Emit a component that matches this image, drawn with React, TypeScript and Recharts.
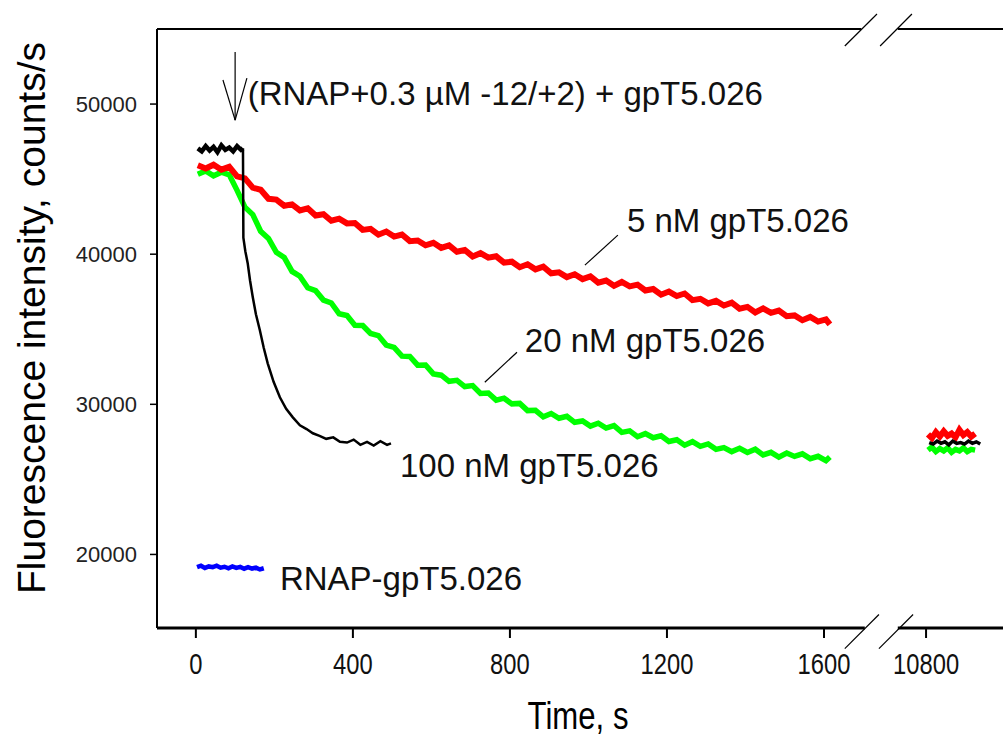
import React from "react";
import { LineChart, Line, XAxis, YAxis, ReferenceLine, ReferenceDot, Label } from "recharts";

// sweep time grid (s) shared by the 5 nM and 20 nM traces
const sweepTime = [
  5, 25, 45, 65, 85, 105, 125, 145, 165, 185, 205, 225, 245, 265, 285, 305, 325, 345, 365, 385,
  405, 425, 445, 465, 485, 505, 525, 545, 565, 585, 605, 625, 645, 665, 685, 705, 725, 745, 765, 785,
  805, 825, 845, 865, 885, 905, 925, 945, 965, 985, 1005, 1025, 1045, 1065, 1085, 1105, 1125, 1145, 1165, 1185,
  1205, 1225, 1245, 1265, 1285, 1305, 1325, 1345, 1365, 1385, 1405, 1425, 1445, 1465, 1485, 1505, 1525, 1545, 1565, 1585,
  1605, 1615,
];
const red5nM = [
  45920, 45710, 45960, 45630, 45820, 45180, 45050, 44430, 44290, 43690, 43640, 43230, 43320, 42920, 43060, 42580, 42660, 42230, 42370, 42050,
  42080, 41620, 41690, 41300, 41510, 41170, 41310, 40870, 40910, 40590, 40760, 40420, 40590, 40160, 40280, 39850, 40070, 39770, 39860, 39440,
  39500, 39130, 39330, 38990, 39170, 38730, 38790, 38470, 38660, 38340, 38520, 38100, 38240, 37890, 38150, 37860, 37970, 37580, 37680, 37300,
  37510, 37210, 37380, 36940, 37030, 36720, 36890, 36580, 36770, 36370, 36490, 36120, 36390, 36090, 36240, 35870, 35920, 35600, 35820, 35510,
  35660, 35330,
];
const green20nM = [
  45320, 45550, 45220, 45460, 45290, 44250, 43130, 42640, 41530, 41050, 40120, 39790, 38850, 38530, 37760, 37570, 36940, 36750, 36030, 35910,
  35270, 35250, 34720, 34580, 33950, 33790, 33210, 33190, 32610, 32620, 32030, 31940, 31530, 31600, 31180, 31250, 30720, 30750, 30280, 30410,
  30030, 30060, 29580, 29600, 29170, 29390, 29070, 29200, 28800, 28890, 28550, 28740, 28420, 28580, 28130, 28230, 27840, 28050, 27770, 27900,
  27520, 27640, 27280, 27510, 27200, 27360, 27000, 27120, 26850, 27070, 26790, 27010, 26630, 26800, 26480, 26760, 26530, 26700, 26380, 26540,
  26250, 26490,
];

const blackTime = [
  5, 15, 25, 35, 45, 55, 65, 75, 85, 95, 105, 115, 120, 121, 126, 132, 138, 145, 153, 163,
  173, 183, 198, 214, 230, 247, 265, 282, 298, 315, 332, 350, 367, 385, 402, 419, 436, 453, 470, 487, 497,
];
const black100nM = [
  47050, 46850, 47200, 46900, 47150, 46800, 47250, 46950, 47100, 46850, 47200, 46950, 47050, 41100, 40200, 39400, 38250, 37130, 36000, 34930,
  33750, 32730, 31500, 30470, 29700, 29130, 28600, 28350, 28070, 27900, 27700, 27800, 27500, 27450, 27650, 27300, 27500, 27250, 27550, 27300, 27400,
];
// index of the last pre-mixing point (t = 120 s)
const MIX_INDEX = 12;

const blueTime = [3, 13, 23, 33, 43, 53, 63, 73, 83, 93, 103, 113, 123, 133, 143, 153, 163, 173];
const blueComplex = [19150, 19250, 19100, 19200, 19150, 19250, 19120, 19180, 19080, 19200, 19100, 19170, 19050, 19150, 19060, 19120, 19000, 19080];

// end points at ~3 h
const lateTime = [10805, 10815, 10825, 10835, 10845, 10855, 10865, 10875, 10885, 10895, 10905, 10915, 10925];
const red5nMLate = [28000, 27750, 28150, 27850, 28200, 27900, 28050, 27800, 28300, 27950, 28150, 27850, 28050];
const green20nMLate = [26950, 27150, 26850, 27050, 26900, 27100, 26800, 27000, 26900, 27100, 26850, 27000, 26950];
const blackLateTime = [10808, 10818, 10828, 10838, 10848, 10858, 10868, 10878, 10888, 10898, 10908, 10918, 10928, 10938];
const black100nMLate = [27450, 27350, 27550, 27400, 27500, 27300, 27550, 27400, 27450, 27350, 27550, 27400, 27500, 27350];

const xTicks = [0, 400, 800, 1200, 1600, 10800];
const yTicks = [20000, 30000, 40000, 50000];

// the time axis is broken between ~1700 s and ~10730 s
const BREAK_SHIFT = 8940;
const toAxis = (t: number) => (t > 5000 ? t - BREAK_SHIFT : t);
const fromAxis = (v: number) => (v > 1750 ? v + BREAK_SHIFT : v);
const series = (time: number[], values: number[]) => time.map((t, i) => ({ x: toAxis(t), y: values[i] }));

const X_DOMAIN: [number, number] = [-99, 2056];
const Y_DOMAIN: [number, number] = [15100, 55000];

const FONT = "'Liberation Sans', Arial, sans-serif";

const notes = [
  { t: 132, v: 49930, text: "(RNAP+0.3 \u00b5M -12/+2) + gpT5.026" },
  { t: 1098, v: 41470, text: "5 nM gpT5.026" },
  { t: 838, v: 33470, text: "20 nM gpT5.026" },
  { t: 520, v: 25130, text: "100 nM gpT5.026" },
  { t: 214, v: 17600, text: "RNAP-gpT5.026" },
];

// arrow + leader lines, [t, intensity] pairs
const pointers = [
  [[100, 53470], [100, 48930]],
  [[69, 51600], [100, 48930]],
  [[130, 51730], [100, 48930]],
  [[991, 39270], [1075, 41270]],
  [[736, 31470], [818, 33470]],
];

// frame pieces in axis units (gap at the break)
const frame = [
  { seg: [[-99, 15100], [1704, 15100]], w: 3 },
  { seg: [[1788, 15100], [2056, 15100]], w: 3 },
  { seg: [[-99, 55000], [1695, 55000]], w: 2 },
  { seg: [[1788, 55000], [2056, 55000]], w: 2 },
  { seg: [[1653, 53870], [1735, 56000]], w: 1.2 },
  { seg: [[1743, 53870], [1824, 56000]], w: 1.2 },
  { seg: [[1653, 13730], [1740, 16000]], w: 1.2 },
  { seg: [[1740, 13730], [1827, 16000]], w: 1.2 },
];

const TimeTick = (p: any) => (
  <g transform={`translate(${p.x},${p.y})`}>
    <text transform="scale(0.82,1)" x={0} y={0} dy="0.71em" textAnchor="middle" fontSize={29} fontFamily={FONT} fill="#111">
      {fromAxis(p.payload.value)}
    </text>
  </g>
);

const noteShape = (text: string) => (p: any) => (
  <text x={p.cx} y={p.cy} fontSize={33} fontFamily={FONT} fill="#111">
    {text}
  </text>
);

export default function App() {
  return (
    <div style={{ position: "absolute", left: 0, top: 0, width: 1003, height: 738, background: "#fff" }}>
      <LineChart width={1003} height={738} margin={{ top: 29, right: 0, bottom: 0, left: 0 }}>
        <XAxis
          dataKey="x"
          type="number"
          domain={X_DOMAIN}
          allowDataOverflow
          ticks={xTicks.map(toAxis)}
          height={110}
          axisLine={false}
          tickLine={{ stroke: "#000", strokeWidth: 2 }}
          tickSize={10}
          tickMargin={15}
          tick={<TimeTick />}
          label={
            <Label
              content={() => (
                <text transform="translate(578,729) scale(0.82,1)" textAnchor="middle" fontSize={38} fontFamily={FONT} fill="#000">
                  Time, s
                </text>
              )}
            />
          }
        />
        <YAxis
          type="number"
          domain={Y_DOMAIN}
          allowDataOverflow
          ticks={yTicks}
          width={157}
          axisLine={{ stroke: "#000", strokeWidth: 2 }}
          tickLine={{ stroke: "#000", strokeWidth: 1.5 }}
          tickSize={7}
          tickMargin={13}
          tick={{ fontSize: 22, fontFamily: FONT, fill: "#222" }}
          label={
            <Label
              content={() => (
                <text transform="translate(45,318) rotate(-90)" textAnchor="middle" fontSize={39} fontFamily={FONT} fill="#000">
                  Fluorescence intensity, counts/s
                </text>
              )}
            />
          }
        />
        {frame.map((f, i) => (
          <ReferenceLine
            key={"f" + i}
            segment={f.seg.map(([x, y]) => ({ x, y }))}
            stroke="#000"
            strokeWidth={f.w}
            ifOverflow="visible"
          />
        ))}
        <Line data={series(blueTime, blueComplex)} dataKey="y" stroke="#0000ff" strokeWidth={4.5} dot={false} isAnimationActive={false} />
        <Line data={series(sweepTime, green20nM)} dataKey="y" stroke="#00ff00" strokeWidth={5.5} dot={false} isAnimationActive={false} />
        <Line data={series(lateTime, green20nMLate)} dataKey="y" stroke="#00ff00" strokeWidth={5.5} dot={false} isAnimationActive={false} />
        <Line data={series(sweepTime, red5nM)} dataKey="y" stroke="#ff0000" strokeWidth={6} dot={false} isAnimationActive={false} />
        <Line data={series(lateTime, red5nMLate)} dataKey="y" stroke="#ff0000" strokeWidth={6} dot={false} isAnimationActive={false} />
        <Line
          data={series(blackTime.slice(0, MIX_INDEX + 1), black100nM.slice(0, MIX_INDEX + 1))}
          dataKey="y"
          stroke="#000"
          strokeWidth={4.5}
          dot={false}
          isAnimationActive={false}
        />
        <Line
          data={series(blackTime.slice(MIX_INDEX), black100nM.slice(MIX_INDEX))}
          dataKey="y"
          stroke="#000"
          strokeWidth={2.5}
          dot={false}
          isAnimationActive={false}
        />
        <Line data={series(blackLateTime, black100nMLate)} dataKey="y" stroke="#000" strokeWidth={3.5} dot={false} isAnimationActive={false} />
        {pointers.map((seg, i) => (
          <ReferenceLine
            key={"p" + i}
            segment={seg.map(([t, v]) => ({ x: toAxis(t), y: v }))}
            stroke="#000"
            strokeWidth={1.2}
            ifOverflow="visible"
          />
        ))}
        {notes.map((n, i) => (
          <ReferenceDot key={"n" + i} x={toAxis(n.t)} y={n.v} r={0} ifOverflow="visible" shape={noteShape(n.text)} />
        ))}
      </LineChart>
    </div>
  );
}
